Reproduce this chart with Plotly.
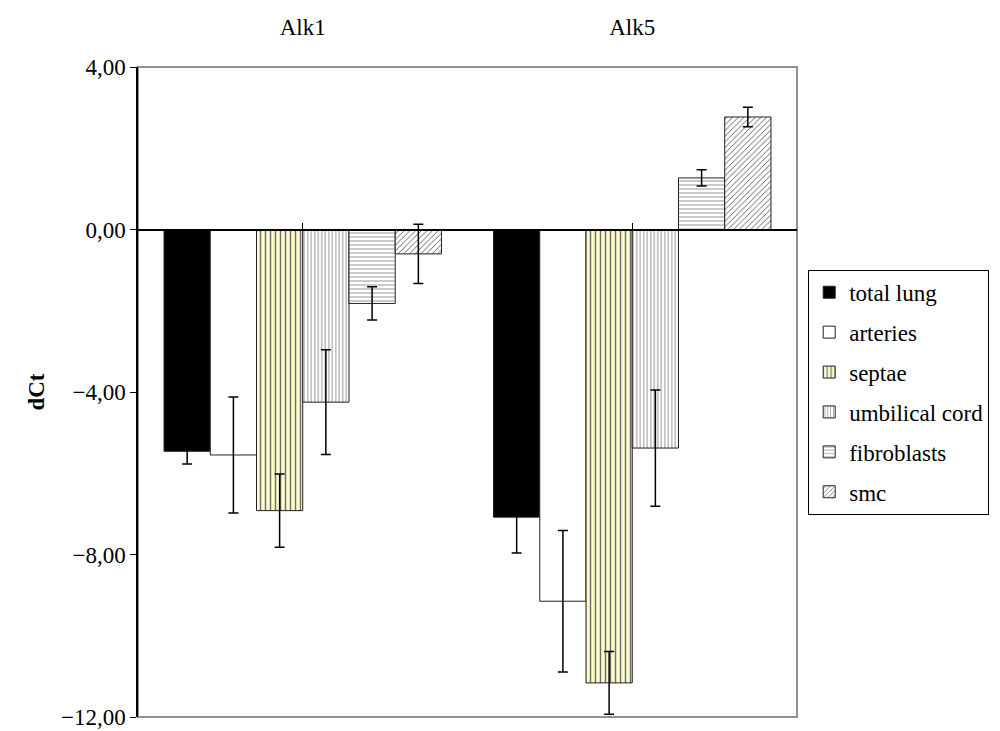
import plotly.graph_objects as go

categories = ["Alk1", "Alk5"]
series_names = ["total lung", "arteries", "septae", "umbilical cord", "fibroblasts", "smc"]

total_lung = [-5.46, -7.08]
arteries = [-5.55, -9.15]
septae = [-6.92, -11.16]
umbilical_cord = [-4.25, -5.38]
fibroblasts = [-1.82, 1.27]
smc = [-0.60, 2.77]

total_lung_err = [0.31, 0.88]
arteries_err = [1.43, 1.74]
septae_err = [0.90, 0.77]
umbilical_cord_err = [1.29, 1.43]
fibroblasts_err = [0.41, 0.20]
smc_err = [0.73, 0.24]

y_ticks = [4, 0, -4, -8, -12]

values = [total_lung, arteries, septae, umbilical_cord, fibroblasts, smc]
errors = [total_lung_err, arteries_err, septae_err, umbilical_cord_err, fibroblasts_err, smc_err]

styles = [
    dict(color="#000000", pattern=dict(shape="")),
    dict(color="#FFFFFF", pattern=dict(shape="")),
    dict(color="#FFFFCC", pattern=dict(shape="|", fgcolor="#707070", bgcolor="#FFFFCC", size=5, solidity=0.3, fillmode="replace")),
    dict(color="#FFFFFF", pattern=dict(shape="|", fgcolor="#A8A8A8", bgcolor="#FFFFFF", size=3.5, solidity=0.35, fillmode="replace")),
    dict(color="#FFFFFF", pattern=dict(shape="-", fgcolor="#A8A8A8", bgcolor="#FFFFFF", size=4, solidity=0.3, fillmode="replace")),
    dict(color="#FFFFFF", pattern=dict(shape="/", fgcolor="#000000", bgcolor="#FFFFFF", size=4, solidity=0.15, fillmode="replace")),
]

FONT = "Liberation Serif"
FS = 23

fig = go.Figure()
for name, vals, errs, st in zip(series_names, values, errors, styles):
    fig.add_trace(go.Bar(
        name=name, x=categories, y=vals,
        marker=dict(color=st["color"], pattern=st["pattern"],
                    line=dict(color="#202020", width=1)),
        error_y=dict(type="data", array=errs, visible=True, color="#000000",
                     thickness=1.5, width=5),
        legendgroup=name,
    ))

# dummy trace for the zero-line axis
fig.add_trace(go.Scatter(x=categories, y=[None, None], xaxis="x2", yaxis="y",
                         showlegend=False, hoverinfo="skip", mode="markers"))

fig.update_layout(
    width=992, height=723,
    paper_bgcolor="white", plot_bgcolor="white",
    margin=dict(l=130, r=203, t=59, b=14, autoexpand=False),
    barmode="group", bargap=0.158, bargroupgap=0,
    separators=",.",
    font=dict(family=FONT, size=FS, color="black"),
    showlegend=True,
    legend=dict(x=1.017, y=0.688, xanchor="left", yanchor="top",
                bordercolor="black", borderwidth=1, bgcolor="white",
                font=dict(family=FONT, size=FS),
                tracegroupgap=7, traceorder="grouped",
                itemwidth=30),
    xaxis=dict(side="top", type="category", categoryorder="array", categoryarray=categories,
               showline=False, showgrid=False, ticks="", ticklabelstandoff=26,
               automargin=False,
               tickfont=dict(family=FONT, size=FS)),
    xaxis2=dict(overlaying="x", matches="x", anchor="free", position=0.75,
                showline=True, linecolor="black", linewidth=1.5,
                ticks="inside", ticklen=6, tickcolor="black",
                automargin=False,
                showticklabels=False, showgrid=False),
    yaxis=dict(range=[-12, 4], tickvals=y_ticks, tickformat=".2f",
               showline=True, linecolor="black", linewidth=1.5,
               ticks="outside", ticklen=6, tickcolor="black",
               showgrid=False, zeroline=False, automargin=False,
               tickfont=dict(family=FONT, size=FS),
               title=dict(text="<b>dCt</b>", font=dict(family=FONT, size=FS), standoff=10)),
    shapes=[dict(type="rect", xref="paper", yref="paper", x0=0, x1=1, y0=0, y1=1,
                 line=dict(color="#909090", width=2), layer="below")],
)

fig.write_html("out.html")
